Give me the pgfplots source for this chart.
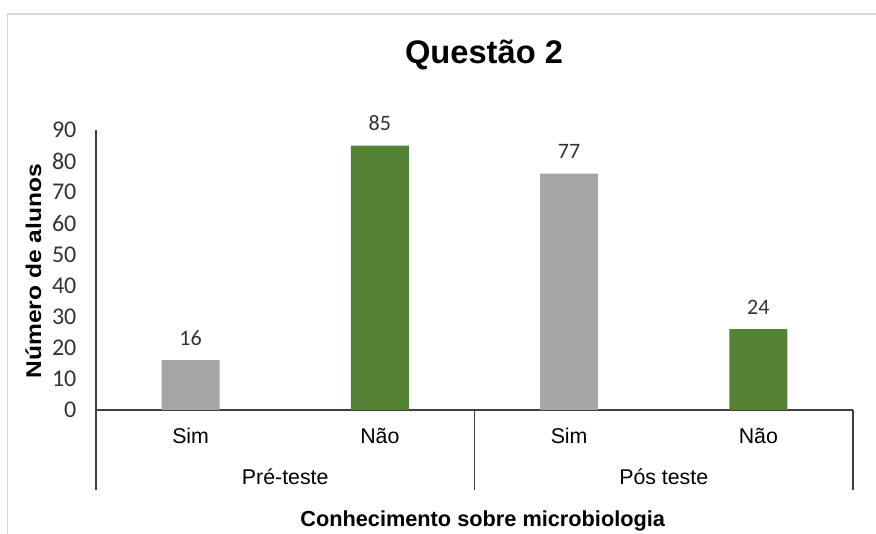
\documentclass[border=0pt]{standalone}
\usepackage{pgfplots}
\pgfplotsset{compat=1.18}
\usepackage{fontspec}
\setmainfont{Liberation Sans}
\newfontfamily\calibri{Carlito}
\definecolor{barGray}{HTML}{A5A5A5}
\definecolor{barGreen}{HTML}{548235}
\definecolor{frameGray}{HTML}{D9D9D9}
\begin{document}
\begin{tikzpicture}
  % page frame (px*0.75 = pt, axis origin at px (96,410))
  \path[use as bounding box] (-72pt,-93pt) rectangle (585pt,307.5pt);
  \draw[frameGray, line width=1.2pt] (-66.5pt,-93pt) -- (-66.5pt,297pt) -- (585pt,297pt);
  \begin{axis}[
    at={(0pt,0pt)}, anchor=south west,
    width=567.75pt, height=210pt, scale only axis,
    xmin=-0.5, xmax=3.5, ymin=0, ymax=90,
    axis x line*=bottom, axis y line*=left,
    axis line style={-, draw=black!75, line width=0.8pt},
    ytick={0,10,...,90},
    xtick={0,1,2,3},
    xticklabels={Sim, Não, Sim, Não},
    major tick length=0pt,
    yticklabel style={font=\calibri\fontsize{18}{18}\selectfont, text=black!80, inner sep=0pt, xshift=-14.5pt},
    xticklabel style={font=\fontsize{16}{16}\selectfont, inner sep=0pt, anchor=center, yshift=-19.5pt},
    /pgf/number format/assume math mode=true,
    ybar, bar width=43.5pt, bar shift=0pt,
    point meta=explicit symbolic,
    nodes near coords,
    every node near coord/.append style={font=\calibri\fontsize{16.5}{16.5}\selectfont, text=black!80, inner sep=0pt, yshift=11pt},
    clip=false,
  ]
    \addplot[fill=barGray, draw=none] coordinates {(0,16) [16] (2,76) [77]};
    \addplot[fill=barGreen, draw=none] coordinates {(1,85) [85] (3,26) [24]};
    \draw[black!75, line width=0.8pt] (axis cs:-0.5,0) -- ++(0pt,-60pt);
    \draw[black!75, line width=0.8pt] (axis cs:1.5,0) -- ++(0pt,-60pt);
    \draw[black!75, line width=0.8pt] (axis cs:3.5,0) -- ++(0pt,-60pt);
    \node[font=\fontsize{16}{16}\selectfont] at (axis cs:0.5,0) [yshift=-50pt] {Pré-teste};
    \node[font=\fontsize{16}{16}\selectfont] at (axis cs:2.5,0) [yshift=-50pt] {Pós teste};
  \end{axis}
  \node[font=\bfseries\fontsize{24.5}{24.5}\selectfont] at (291pt,266pt) {Questão 2};
  \node[font=\bfseries\fontsize{16}{16}\selectfont, rotate=90] at (-47pt,104pt) {\scalebox{1.15}[1]{Número de alunos}};
  \node[font=\bfseries\fontsize{16.3}{16.3}\selectfont] at (290pt,-83pt) {Conhecimento sobre microbiologia};
\end{tikzpicture}
\end{document}
